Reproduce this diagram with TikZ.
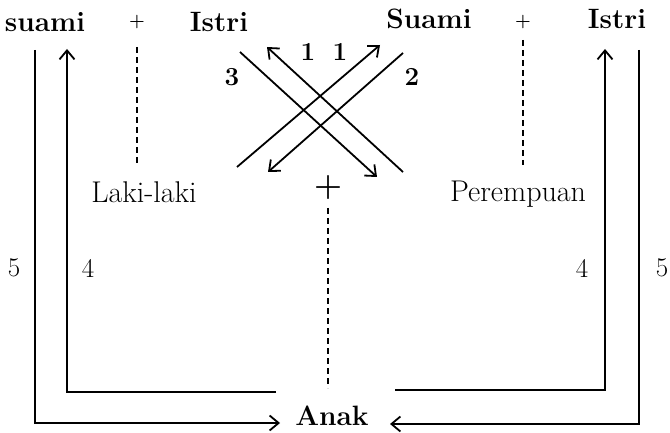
\documentclass[tikz,border=0pt]{standalone}
\usepackage{fontspec}
\setmainfont{Latin Modern Roman}
\usetikzlibrary{arrows.meta}
\begin{document}
\begin{tikzpicture}[x=1pt,y=-1pt, line width=1.8pt,
  bl/.style={font=\fontsize{28}{30}\selectfont\bfseries, inner sep=0pt, anchor=base},
  rl/.style={font=\fontsize{30}{32}\selectfont, inner sep=0pt, anchor=base},
  num/.style={font=\fontsize{27}{28}\selectfont, inner sep=0pt},
  pls/.style={font=\fontsize{18}{20}\selectfont\bfseries, inner sep=0pt},
  bnum/.style={font=\fontsize{26}{28}\selectfont\bfseries, inner sep=0pt},
  arr/.style={-{Straight Barb[length=9pt,width=15pt]}},
  dsh/.style={line width=2pt, dash pattern=on 6pt off 4pt}]
\useasboundingbox (0,0) rectangle (670,433);
% top labels
\node[bl] (s1) at (45,32) {suami};
\node[pls] (p1) at (137,22) {+};
\node[bl] (i1) at (219,32) {Istri};
\node[bl] (s2) at (429,29) {Suami};
\node[pls] (p2) at (523,22) {+};
\node[bl] (i2) at (617,29) {Istri};
% middle labels
\node[rl] (lk) at (144,203) {Laki-laki};
\node[rl] (pr) at (518,202) {Perempuan};
\node[font=\fontsize{32}{34}\selectfont\bfseries, inner sep=0pt] (pc) at (328,188) {+};
\node[bl] (an) at (332,425) {Anak};
% numbers
\node[num] (n5l) at (14,268) {5};
\node[num] (n4l) at (88,268) {4};
\node[num] (n4r) at (582,268) {4};
\node[num] (n5r) at (662,268) {5};
\node[bnum] (n1a) at (308,52) {1};
\node[bnum] (n1b) at (340,52) {1};
\node[bnum] (n3) at (232,77) {3};
\node[bnum] (n2) at (412,77) {2};
% dashed links
\coordinate (d1a) at (137,47); \coordinate (d1b) at (137,165);
\coordinate (d2a) at (523,40); \coordinate (d2b) at (523,165);
\coordinate (d3a) at (328,208); \coordinate (d3b) at (328,388);
\draw[dsh] (d1a) -- (d1b);
\draw[dsh] (d2a) -- (d2b);
\draw[dsh] (d3a) -- (d3b);
% cross
\coordinate (c3a) at (240,52);  \coordinate (c3b) at (377,177);
\coordinate (c1a) at (403,172); \coordinate (c1b) at (267,47);
\coordinate (c1c) at (237,167); \coordinate (c1d) at (380,45);
\coordinate (c2a) at (403,53);  \coordinate (c2b) at (268,172);
\draw[arr] (c3a) -- (c3b);
\draw[arr] (c1a) -- (c1b);
\draw[arr] (c1c) -- (c1d);
\draw[arr] (c2a) -- (c2b);
% left side
\coordinate (lo1) at (35,50); \coordinate (lo2) at (35,423); \coordinate (lo3) at (280,423);
\coordinate (li1) at (276,392); \coordinate (li2) at (67,392); \coordinate (li3) at (67,49);
\draw[arr] (lo1) -- (lo2) -- (lo3);
\draw[arr] (li1) -- (li2) -- (li3);
% right side
\coordinate (ri1) at (395,390); \coordinate (ri2) at (605,390); \coordinate (ri3) at (605,49);
\coordinate (ro1) at (639,50); \coordinate (ro2) at (639,424); \coordinate (ro3) at (390,424);
\draw[arr] (ri1) -- (ri2) -- (ri3);
\draw[arr] (ro1) -- (ro2) -- (ro3);
\end{tikzpicture}
\end{document}
